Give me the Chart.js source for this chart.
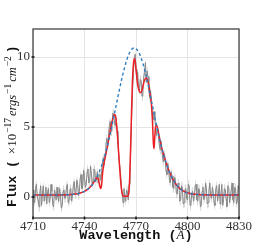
<!DOCTYPE html>
<html><head><meta charset="utf-8">
<script src="https://cdn.jsdelivr.net/npm/chart.js@4.4.1/dist/chart.umd.min.js"></script>
<style>html,body{margin:0;padding:0;background:#fff}#c{display:block}</style>
</head><body><canvas id="c" width="266" height="245"></canvas>
<script>
// Observed spectrum (wavelength in Angstrom, flux in 1e-17 erg/s/cm2)
const wave = [
4710,4710.5,4711,4711.5,4712,4712.5,4713,4713.5,4714,4714.5,4715,4715.5,4716,4716.5,4717,4717.5,4718,4718.5,4719,4719.5,
4720,4720.5,4721,4721.5,4722,4722.5,4723,4723.5,4724,4724.5,4725,4725.5,4726,4726.5,4727,4727.5,4728,4728.5,4729,4729.5,
4730,4730.5,4731,4731.5,4732,4732.5,4733,4733.5,4734,4734.5,4735,4735.5,4736,4736.5,4737,4737.5,4738,4738.5,4739,4739.5,
4740,4740.5,4741,4741.5,4742,4742.5,4743,4743.5,4744,4744.5,4745,4745.5,4746,4746.5,4747,4747.5,4748,4748.5,4749,4749.5,
4750,4750.5,4751,4751.5,4752,4752.5,4753,4753.5,4754,4754.5,4755,4755.5,4756,4756.5,4757,4757.5,4758,4758.5,4759,4759.5,
4760,4760.5,4761,4761.5,4762,4762.5,4763,4763.5,4764,4764.5,4765,4765.5,4766,4766.5,4767,4767.5,4768,4768.5,4769,4769.5,
4770,4770.5,4771,4771.5,4772,4772.5,4773,4773.5,4774,4774.5,4775,4775.5,4776,4776.5,4777,4777.5,4778,4778.5,4779,4779.5,
4780,4780.5,4781,4781.5,4782,4782.5,4783,4783.5,4784,4784.5,4785,4785.5,4786,4786.5,4787,4787.5,4788,4788.5,4789,4789.5,
4790,4790.5,4791,4791.5,4792,4792.5,4793,4793.5,4794,4794.5,4795,4795.5,4796,4796.5,4797,4797.5,4798,4798.5,4799,4799.5,
4800,4800.5,4801,4801.5,4802,4802.5,4803,4803.5,4804,4804.5,4805,4805.5,4806,4806.5,4807,4807.5,4808,4808.5,4809,4809.5,
4810,4810.5,4811,4811.5,4812,4812.5,4813,4813.5,4814,4814.5,4815,4815.5,4816,4816.5,4817,4817.5,4818,4818.5,4819,4819.5,
4820,4820.5,4821,4821.5,4822,4822.5,4823,4823.5,4824,4824.5,4825,4825.5,4826,4826.5,4827,4827.5,4828,4828.5,4829,4829.5,
4830];
const flux = [
0.5,-0.1,-0.4,0.6,0.9,0.0,-0.2,-0.7,0.3,0.8,-0.6,0.2,0.8,-0.3,0.1,0.7,-0.5,0.3,0.6,-0.4,
-0.1,0.9,0.4,-0.5,-0.7,0.5,0.2,-0.2,0.7,0.0,-0.3,0.6,0.1,-0.8,-0.6,0.4,0.5,-0.1,0.0,0.7,
0.9,-0.4,-0.2,0.5,0.6,-0.3,0.1,0.8,1.1,0.2,0.3,1.2,0.9,0.1,0.4,1.3,1.6,0.6,0.8,1.9,
1.4,0.7,0.9,1.8,2.0,1.0,1.1,2.2,1.7,0.9,1.2,2.0,1.9,1.1,1.3,1.8,1.0,1.5,1.6,1.2,
1.9,2.5,2.8,2.3,3.0,3.7,4.2,3.6,4.4,5.1,5.4,4.7,5.0,6.0,5.9,5.2,5.1,5.6,4.7,3.8,
2.9,2.2,1.7,0.6,0.2,-0.4,0.6,0.0,-0.3,0.5,0.4,-0.2,0.9,1.8,3.8,5.9,7.6,9.0,9.7,10.2,
9.1,8.4,8.9,7.8,7.6,8.4,8.3,7.2,7.5,8.6,8.9,9.6,8.2,9.0,8.6,7.6,7.1,7.6,6.7,6.0,
5.5,6.1,5.6,4.9,4.4,5.0,4.5,3.8,3.4,4.0,3.5,2.8,2.5,3.1,2.7,1.9,1.6,2.4,2.0,1.2,
1.0,1.8,1.5,0.7,0.6,1.4,1.2,0.3,0.2,1.0,0.9,-0.3,-0.2,0.8,0.7,-0.5,-0.4,0.5,0.6,-0.1,
-0.2,0.9,0.8,-0.6,-0.5,0.3,0.4,-0.3,0.1,0.8,0.9,-0.2,-0.3,0.6,0.5,-0.7,-0.6,0.4,0.7,-0.2,
0.0,1.0,0.6,-0.5,-0.4,0.5,1.0,0.1,-0.1,0.7,0.3,-0.4,-0.6,0.6,0.8,-0.3,0.2,0.9,-0.5,0.2,
0.9,-0.6,-0.2,0.6,0.5,-0.1,-0.7,0.8,0.7,-0.4,0.0,0.5,1.0,-0.2,-0.4,0.7,0.6,-0.5,-0.3,0.8,
0.4];
const fluxErr = 0.35;

// Best-fit model with absorption (red)
const modelX = [4710,4714,4718,4722,4726,4730,4732,4734,4736,4738,4740,4742,4744,4746,4747,4748,4748.8,4749.4,4750,4750.6,
4751.5,4752.5,4753.5,4754.5,4755.5,4756.5,4757.5,4758.2,4758.8,4759.5,4760.2,4760.9,4761.5,4762.2,4763,4764,4765,4765.8,4766.3,4766.8,
4767.3,4767.8,4768.3,4768.9,4769.5,4770.2,4771,4771.8,4772.6,4773.4,4774.2,4775,4775.8,4776.6,4777.4,4778.2,4779,4779.6,4780.1,4780.5,
4780.9,4781.4,4782,4784,4786,4788,4790,4792,4794,4796,4798,4800,4802,4804,4806,4808,4812,4816,4820,4824,4830];
const modelY = [0.15,0.15,0.15,0.15,0.15,0.16,0.17,0.20,0.23,0.30,0.40,0.56,0.80,1.15,1.35,1.3,0.85,0.6,0.9,1.8,
2.5,3.1,3.7,4.4,5.1,5.6,5.9,5.7,5.0,3.9,2.6,1.4,0.6,0.15,0.05,0.05,0.05,0.3,1.3,3.2,
5.6,7.8,9.2,9.9,9.7,8.9,8.0,7.6,7.45,7.6,8.0,8.35,8.5,8.4,8.0,7.35,6.6,5.4,3.9,3.45,
4.2,5.0,5.1,4.01,3.05,2.26,1.63,1.15,0.80,0.56,0.40,0.30,0.23,0.20,0.17,0.16,0.15,0.15,0.15,0.15,0.15];

// Intrinsic (unabsorbed) profile (blue dashed)
const intrX = [4710,4714,4718,4722,4726,4730,4732,4734,4736,4738,4740,4742,4744,4746,4748,4750,4752,4754,4756,4758,
4760,4762,4764,4766,4768,4769,4770,4772,4774,4776,4778,4780,4782,4784,4786,4788,4790,4792,4794,4796,
4798,4800,4802,4804,4806,4808,4812,4816,4820,4824,4830];
const intrY = [0.15,0.15,0.15,0.15,0.15,0.16,0.17,0.20,0.23,0.30,0.40,0.56,0.80,1.15,1.63,2.26,3.05,4.01,5.10,6.28,
7.47,8.59,9.54,10.24,10.60,10.65,10.60,10.24,9.54,8.59,7.47,6.28,5.10,4.01,3.05,2.26,1.63,1.15,0.80,0.56,
0.40,0.30,0.23,0.20,0.17,0.16,0.15,0.15,0.15,0.15,0.15];

const xTicks = [4710,4740,4770,4800,4830];
const yTicks = [0,5,10];

const pts = (xs, ys) => xs.map((x, i) => ({x, y: ys[i]}));

const decor = {
  id: 'decor',
  afterDraw(chart) {
    const ctx = chart.ctx, a = chart.chartArea;
    const sx = chart.scales.x, sy = chart.scales.y;
    ctx.save();
    ctx.strokeStyle = '#444'; ctx.lineWidth = 1.3;
    ctx.strokeRect(a.left, a.top, a.right - a.left, a.bottom - a.top);
    ctx.strokeStyle = '#111'; ctx.lineWidth = 1.5;
    xTicks.forEach(v => { const p = sx.getPixelForValue(v); ctx.beginPath(); ctx.moveTo(p, a.bottom - 1.5); ctx.lineTo(p, a.bottom + 1.5); ctx.stroke(); });
    yTicks.forEach(v => { const p = sy.getPixelForValue(v); ctx.beginPath(); ctx.moveTo(a.left - 1.5, p); ctx.lineTo(a.left + 1.5, p); ctx.stroke(); });
    ctx.fillStyle = '#111'; ctx.textBaseline = 'alphabetic'; ctx.textAlign = 'left';
    // x title
    const mono = 'bold 13.5px "Liberation Mono"';
    const xs = [{t: 'Wavelength (', f: mono}, {t: 'Å', f: 'italic 13px "Liberation Serif"'}, {t: ')', f: mono}];
    let tw = 0; xs.forEach(s => { ctx.font = s.f; s.w = ctx.measureText(s.t).width; tw += s.w; });
    let cx = (a.left + a.right) / 2 - tw / 2;
    xs.forEach(s => { ctx.font = s.f; ctx.fillText(s.t, cx, 239); cx += s.w; });
    // y title
    const mono2 = 'bold 13px "Liberation Mono"';
    const ys = [
      {t: 'Flux (', f: mono2, d: 0, g: 6},
      {t: '×10', f: '13px "Liberation Serif"', d: 0, g: 1},
      {t: '−17', f: '9.5px "Liberation Serif"', d: -5, g: 2},
      {t: 'ergs', f: 'italic 12.5px "Liberation Serif"', d: 0, g: 1},
      {t: '−1', f: '9.5px "Liberation Serif"', d: -5, g: 2},
      {t: 'cm', f: 'italic 12.5px "Liberation Serif"', d: 0, g: 1},
      {t: '−2', f: '9.5px "Liberation Serif"', d: -5, g: 3},
      {t: ')', f: mono2, d: 0, g: 0}
    ];
    ctx.translate(16, 207); ctx.rotate(-Math.PI / 2);
    let px = 0;
    ys.forEach(s => { ctx.font = s.f; ctx.fillText(s.t, px, s.d); px += ctx.measureText(s.t).width + s.g; });
    ctx.restore();
  }
};

new Chart(document.getElementById('c'), {
  type: 'line',
  data: {
    datasets: [
      {data: pts(wave, flux.map(v => v + fluxErr)), borderWidth: 0, pointRadius: 0, fill: false, order: 4, tension: 0},
      {data: pts(wave, flux.map(v => v - fluxErr)), borderWidth: 0, pointRadius: 0, fill: '-1', backgroundColor: 'rgba(150,150,150,0.4)', order: 3, tension: 0},
      {data: pts(wave, flux), borderColor: '#888888', borderWidth: 1, pointRadius: 0, fill: false, order: 2, tension: 0},
      {data: pts(modelX, modelY), borderColor: 'rgb(236,32,36)', borderWidth: 1.5, pointRadius: 0, fill: false, order: 1, cubicInterpolationMode: 'monotone'},
      {data: pts(intrX, intrY), borderColor: '#2f7fc1', borderWidth: 1.4, borderDash: [3, 2.5], pointRadius: 0, fill: false, order: 0, cubicInterpolationMode: 'monotone'}
    ]
  },
  options: {
    responsive: false, animation: false, events: [],
    layout: {padding: {top: 29, right: 27, left: 0, bottom: 0}},
    plugins: {legend: {display: false}, tooltip: {enabled: false}},
    scales: {
      x: {
        type: 'linear', min: 4710, max: 4830,
        afterBuildTicks: s => { s.ticks = xTicks.map(v => ({value: v})); },
        afterFit: s => { s.height = 27; },
        grid: {color: '#e4e4e4', drawTicks: false}, border: {display: false},
        ticks: {font: {family: 'Liberation Serif', size: 13}, color: '#333', padding: 1, maxRotation: 0, autoSkip: false, callback: v => String(v)}
      },
      y: {
        type: 'linear', min: -1.5, max: 12,
        afterBuildTicks: s => { s.ticks = yTicks.map(v => ({value: v})); },
        afterFit: s => { s.width = 33; },
        grid: {color: '#e4e4e4', drawTicks: false}, border: {display: false},
        ticks: {font: {family: 'Liberation Serif', size: 13}, color: '#333', padding: 3, callback: v => String(v)}
      }
    }
  },
  plugins: [decor]
});
</script>
</body></html>
